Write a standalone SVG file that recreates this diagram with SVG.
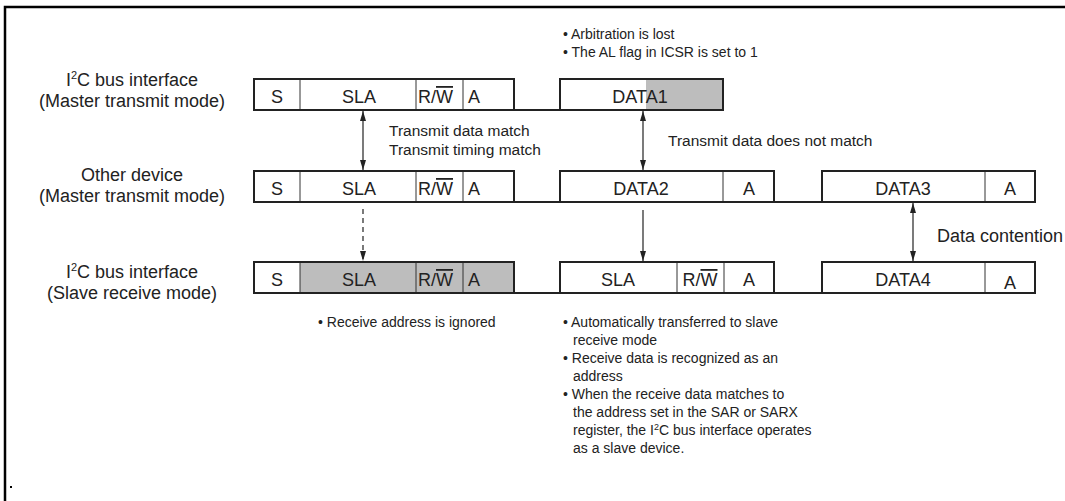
<svg xmlns="http://www.w3.org/2000/svg" width="1065" height="501" viewBox="0 0 1065 501">
<style>
.bf{fill:#fff}
.gy{fill:#bdbdbd}
.bd{fill:none;stroke:#222;stroke-width:2}
.dv{stroke:#333;stroke-width:1}
.bl{stroke:#222;stroke-width:2;fill:none}
.t{font-family:"Liberation Sans",Arial,sans-serif;font-size:18px;fill:#222}
.c{text-anchor:middle}
.m{font-family:"Liberation Sans",Arial,sans-serif;font-size:15.5px;fill:#222}
.s{font-family:"Liberation Sans",Arial,sans-serif;font-size:14px;fill:#222}
.ar{stroke:#222;stroke-width:1.2;fill:none}
.fr{stroke:#000;stroke-width:2.5;fill:none}
</style>
<defs>
<marker id="ah" viewBox="0 0 10 6" refX="10" refY="3" markerWidth="10" markerHeight="6" markerUnits="userSpaceOnUse" orient="auto-start-reverse"><path d="M0,0 L10,3 L0,6 z" fill="#222"/></marker>
</defs>
<g id="frame">
<path class="fr" d="M5,501 V7 H1065"/>
<rect x="10" y="486" width="2" height="2" fill="#000"/>
</g>
<g id="labels">
<text class="t c" x="132" y="86">I<tspan font-size="11" dy="-7">2</tspan><tspan dy="7">C bus interface</tspan></text>
<text class="t c" x="132" y="107">(Master transmit mode)</text>
<text class="t c" x="132" y="181">Other device</text>
<text class="t c" x="132" y="202">(Master transmit mode)</text>
<text class="t c" x="132" y="278">I<tspan font-size="11" dy="-7">2</tspan><tspan dy="7">C bus interface</tspan></text>
<text class="t c" x="132" y="299">(Slave receive mode)</text>
</g>
<g id="row1-addr">
<rect class="bf" x="254" y="79" width="260" height="31"/>
<line class="dv" x1="300" y1="79" x2="300" y2="110"/>
<line class="dv" x1="416" y1="79" x2="416" y2="110"/>
<line class="dv" x1="463" y1="79" x2="463" y2="110"/>
<rect class="bd" x="254" y="79" width="260" height="31"/>
<text class="t c" x="277" y="103">S</text>
<text class="t c" x="359" y="103">SLA</text>
<text class="t" x="418" y="103">R/<tspan text-decoration="overline">W</tspan></text>
<text class="t" x="468" y="103">A</text>
</g>
<g id="row1-data1">
<rect class="bf" x="560" y="79" width="163" height="31"/>
<rect class="gy" x="646" y="79" width="77" height="31"/>
<rect class="bd" x="560" y="79" width="163" height="31"/>
<text class="t c" x="640" y="103">DATA1</text>
</g>
<g id="row2-addr">
<rect class="bf" x="254" y="171" width="260" height="31"/>
<line class="dv" x1="300" y1="171" x2="300" y2="202"/>
<line class="dv" x1="416" y1="171" x2="416" y2="202"/>
<line class="dv" x1="463" y1="171" x2="463" y2="202"/>
<rect class="bd" x="254" y="171" width="260" height="31"/>
<text class="t c" x="277" y="195">S</text>
<text class="t c" x="359" y="195">SLA</text>
<text class="t" x="418" y="195">R/<tspan text-decoration="overline">W</tspan></text>
<text class="t" x="468" y="195">A</text>
</g>
<g id="row2-data2">
<rect class="bf" x="560" y="171" width="214" height="31"/>
<line class="dv" x1="723" y1="171" x2="723" y2="202"/>
<rect class="bd" x="560" y="171" width="214" height="31"/>
<text class="t c" x="641" y="195">DATA2</text>
<text class="t c" x="749" y="195">A</text>
</g>
<g id="row2-data3">
<rect class="bf" x="822" y="171" width="213" height="31"/>
<line class="dv" x1="985" y1="171" x2="985" y2="202"/>
<rect class="bd" x="822" y="171" width="213" height="31"/>
<text class="t c" x="903" y="195">DATA3</text>
<text class="t c" x="1010" y="195">A</text>
</g>
<g id="row3-addr">
<rect class="bf" x="254" y="262" width="46" height="31"/>
<rect class="gy" x="300" y="262" width="214" height="31"/>
<line class="dv" x1="300" y1="262" x2="300" y2="293"/>
<line class="dv" x1="416" y1="262" x2="416" y2="293"/>
<line class="dv" x1="463" y1="262" x2="463" y2="293"/>
<rect class="bd" x="254" y="262" width="260" height="31"/>
<text class="t c" x="277" y="286">S</text>
<text class="t c" x="359" y="286">SLA</text>
<text class="t" x="418" y="286">R/<tspan text-decoration="overline">W</tspan></text>
<text class="t" x="468" y="286">A</text>
</g>
<g id="row3-sla">
<rect class="bf" x="560" y="262" width="214" height="31"/>
<line class="dv" x1="677" y1="262" x2="677" y2="293"/>
<line class="dv" x1="724" y1="262" x2="724" y2="293"/>
<rect class="bd" x="560" y="262" width="214" height="31"/>
<text class="t c" x="618" y="286">SLA</text>
<text class="t c" x="700" y="286">R/<tspan text-decoration="overline">W</tspan></text>
<text class="t c" x="749" y="286">A</text>
</g>
<g id="row3-data4">
<rect class="bf" x="822" y="262" width="213" height="31"/>
<line class="dv" x1="985" y1="262" x2="985" y2="293"/>
<rect class="bd" x="822" y="262" width="213" height="31"/>
<text class="t c" x="903" y="286">DATA4</text>
<text class="t c" x="1010" y="289">A</text>
</g>
<g id="connectors">
<path class="bl" d="M514,110 H560 M514,202 H560 M774,202 H822 M514,293 H560 M774,293 H822"/>
<line class="ar" x1="363" y1="111" x2="363" y2="170" marker-start="url(#ah)" marker-end="url(#ah)"/>
<line class="ar" x1="643" y1="111" x2="643" y2="170" marker-start="url(#ah)" marker-end="url(#ah)"/>
<line class="ar" x1="363" y1="209" x2="363" y2="261" stroke-dasharray="5,4" marker-end="url(#ah)"/>
<line class="ar" x1="643" y1="210" x2="643" y2="261" marker-end="url(#ah)"/>
<line class="ar" x1="913" y1="203" x2="913" y2="261" marker-start="url(#ah)" marker-end="url(#ah)"/>
</g>
<g id="notes">
<text class="s" x="563" y="39">• Arbitration is lost</text>
<text class="s" x="563" y="57">• The AL flag in ICSR is set to 1</text>
<text class="m" x="389" y="136">Transmit data match</text>
<text class="m" x="389" y="155">Transmit timing match</text>
<text class="m" x="668" y="146">Transmit data does not match</text>
<text class="t" x="937" y="242">Data contention</text>
<text class="s" x="318" y="327">• Receive address is ignored</text>
<text class="s" x="563" y="327">• Automatically transferred to slave</text>
<text class="s" x="573" y="345">receive mode</text>
<text class="s" x="563" y="363">• Receive data is recognized as an</text>
<text class="s" x="573" y="381">address</text>
<text class="s" x="563" y="399">• When the receive data matches to</text>
<text class="s" x="573" y="417">the address set in the SAR or SARX</text>
<text class="s" x="573" y="435">register, the I<tspan font-size="9" dy="-5">2</tspan><tspan dy="5">C bus interface operates</tspan></text>
<text class="s" x="573" y="453">as a slave device.</text>
</g>
</svg>
